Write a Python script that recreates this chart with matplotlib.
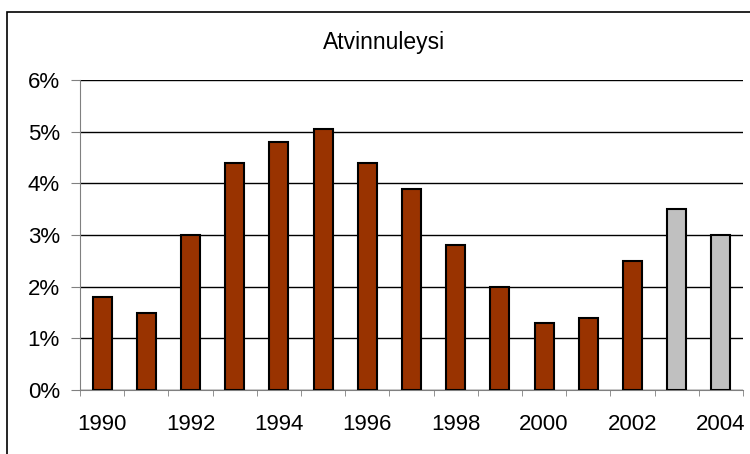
import numpy as np
import matplotlib.pyplot as plt
from matplotlib.patches import Rectangle

# data (unemployment, %)
years = list(range(1990, 2005))
rate = [1.8, 1.5, 3.0, 4.4, 4.8, 5.05, 4.4, 3.9, 2.8, 2.0, 1.3, 1.4, 2.5, 3.5, 3.0]
forecast_from = 2003  # grey bars

plt.rcParams['font.family'] = ['Liberation Sans', 'DejaVu Sans']

fig = plt.figure(figsize=(7.5, 4.54), dpi=100)
ax = fig.add_axes([80 / 750, 1 - 390 / 454, 663 / 750, 310 / 454])

# outer frame of the chart area
fig.patches.append(Rectangle((7 / 750, -0.1), 1.1, 1 - 12 / 454 + 0.1,
                             transform=fig.transFigure, fill=False,
                             edgecolor='black', linewidth=1.2))

x = np.arange(len(years))
colors = ['#c0c0c0' if y >= forecast_from else '#993300' for y in years]
ax.bar(x, rate, width=0.43, color=colors, edgecolor='black', linewidth=1.5, zorder=3)

ax.set_xlim(-0.5, len(years) - 0.5)
ax.set_ylim(0, 6)
ax.set_yticks(range(0, 7))
ax.set_yticklabels([f'{v}%' for v in range(0, 7)], fontsize=16)
ax.yaxis.grid(True, color='black', linewidth=1)
ax.set_axisbelow(True)

ax.set_xticks(x[::2])
ax.set_xticklabels([str(y) for y in years[::2]], fontsize=16)
ax.set_xticks(np.arange(-0.5, len(years)), minor=True)
ax.tick_params(axis='x', which='major', length=0, pad=17)
ax.tick_params(axis='x', which='minor', length=4.5, color='#808080', direction='out')
ax.tick_params(axis='y', length=6.5, color='#808080', pad=8)

for s in ['top', 'right']:
    ax.spines[s].set_visible(False)
ax.spines['left'].set_color('#808080')
ax.spines['bottom'].set_color('#808080')

fig.text(384 / 750, 1 - 42 / 454, 'Atvinnuleysi', ha='center', va='center', fontsize=16.5)

fig.savefig('out.png', dpi=100)
